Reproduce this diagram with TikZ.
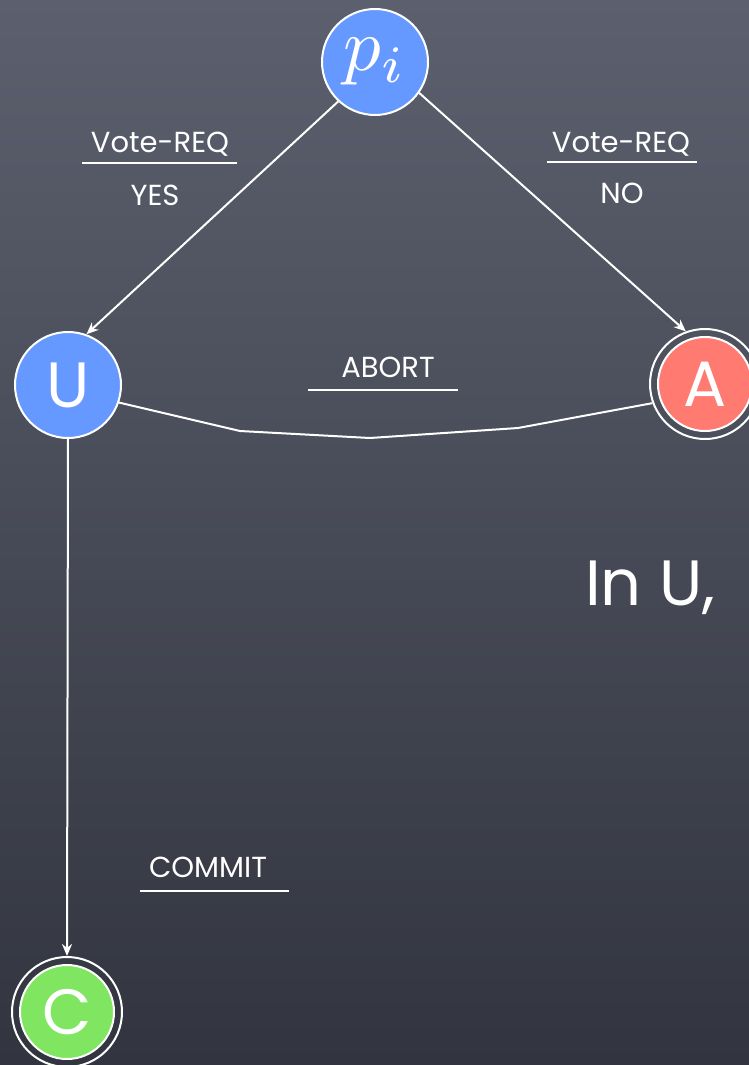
\documentclass[tikz,border=0pt]{standalone}
\usepackage{graphicx}
\usepackage{fontspec}
\setmainfont{Poppins}
\usetikzlibrary{arrows.meta}
\definecolor{bgtop}{RGB}{92,96,110}
\definecolor{bgbot}{RGB}{50,53,63}
\definecolor{nodeblue}{RGB}{102,153,255}
\definecolor{nodered}{RGB}{255,122,112}
\definecolor{nodegreen}{RGB}{128,230,98}
\begin{document}
\begin{tikzpicture}[x=1pt,y=-1pt,
  state/.style={circle,draw=white,line width=2pt,minimum size=106pt,inner sep=0pt,text=white,font=\fontsize{64}{70}\selectfont},
  accin/.style={circle,draw=white,line width=2pt,minimum size=94pt,inner sep=0pt,text=white,font=\fontsize{64}{70}\selectfont},
  accout/.style={circle,draw=white,line width=2pt,minimum size=110pt,inner sep=0pt},
  edge/.style={draw=white,line width=2pt},
  arr/.style={edge,-{Stealth[length=12pt,width=10pt]}},
  lbl/.style={text=white,anchor=base,inner sep=0pt,font=\fontsize{29}{32}\selectfont},
  rule/.style={draw=white,line width=2pt}]
\useasboundingbox (0,0) rectangle (749,1065);
\shade[top color=bgtop,bottom color=bgbot] (0,0) rectangle (749,1065);

% states
\node[state,fill=nodeblue,font=\normalsize] (p) at (375,62) {\scalebox{7.5}{$p_i$}};
\node[state,fill=nodeblue] (U) at (68,385) {U};
\node[accout] (Aout) at (705,384) {};
\node[accin,fill=nodered] (A) at (705,384) {A};
\node[accout] (Cout) at (67,1012) {};
\node[accin,fill=nodegreen] (C) at (67,1012) {C};

% connectors
\draw[arr] (p.227) -- (U.70);
\draw[arr] (p.-35) -- (Aout.110);
\coordinate (k1) at (240,431);
\coordinate (k2) at (370,438);
\coordinate (k3) at (518,428);
\draw[edge] (U.-19) -- (k1) -- (k2) -- (k3) -- (Aout.200);
\draw[arr] (U.south) -- (Cout.north);

% labels
\node[lbl] (vl) at (160,152) {Vote-REQ};
\draw[rule] (82,163) -- (237,163);
\node[lbl] (yes) at (155,205) {YES};
\node[lbl] (vr) at (621,152) {Vote-REQ};
\draw[rule] (547,162) -- (697,162);
\node[lbl] (no) at (622,203) {NO};
\node[lbl] (ab) at (388,377) {ABORT};
\draw[rule] (308,390) -- (458,390);
\node[lbl] (cm) at (208,877) {COMMIT};
\draw[rule] (140,891) -- (289,891);

\node[text=white,anchor=base west,inner sep=0pt,font=\fontsize{64}{70}\selectfont] (inu) at (585,605) {In U,};
\end{tikzpicture}
\end{document}
